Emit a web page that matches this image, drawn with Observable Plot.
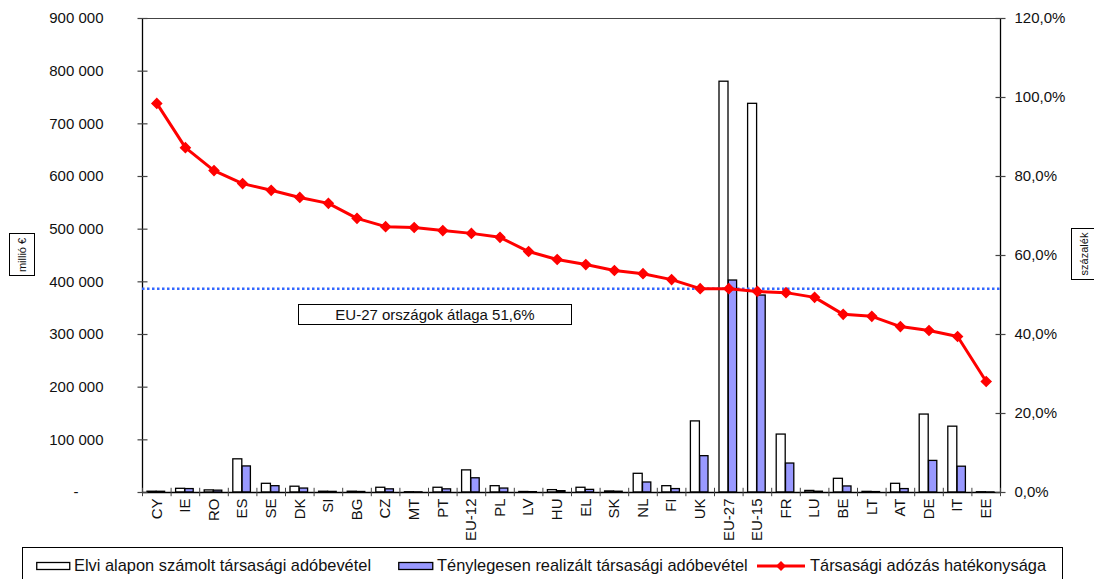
<!DOCTYPE html>
<html>
<head>
<meta charset="utf-8">
<script src="https://cdn.jsdelivr.net/npm/d3@7"></script>
<script src="https://cdn.jsdelivr.net/npm/@observablehq/plot@0.6"></script>
<style>
  html, body { margin: 0; padding: 0; background: #fff; }
  body { font-family: "Liberation Sans", Arial, sans-serif; color: #111; }
  #wrap { position: relative; width: 1094px; height: 579px; overflow: hidden; }
  .box { position: absolute; border: 1px solid #000; background: #fff; box-sizing: border-box; }
  .vlabel { position: absolute; border: 1px solid #000; background: #fff; box-sizing: border-box; }
  .vlabel span { position: absolute; left: 50%; top: 50%; transform: translate(-50%, -50%) rotate(-90deg); white-space: nowrap; font-size: 11px; }
  #avg { left: 298px; top: 304px; width: 274px; height: 21px; font-size: 15px; text-align: center; line-height: 19px; }
  #legend { position: absolute; left: 22px; top: 547px; width: 1041px; height: 44px; border: 1px solid #000; box-sizing: border-box; font-size: 16.4px; }
  .item { position: absolute; top: 8px; display: flex; align-items: center; white-space: nowrap; }
  .item svg { margin-right: 3px; }
</style>
</head>
<body>
<div id="wrap">
  <div id="chart"></div>
  <div class="box" id="avg"></div>
  <div class="vlabel" style="left:9px; top:233px; width:26px; height:43px;"><span id="ylabL"></span></div>
  <div class="vlabel" style="left:1071px; top:228px; width:26px; height:52px;"><span id="ylabR"></span></div>
  <div id="legend"></div>
</div>
<script>
// Countries / country groups, ordered by tax efficiency
const countries = ["CY","IE","RO","ES","SE","DK","SI","BG","CZ","MT","PT","EU-12","PL","LV","HU","EL","SK","NL","FI","UK","EU-27","EU-15","FR","LU","BE","LT","AT","DE","IT","EE"];

// Theoretical corporate tax revenue (million €)
const theoretical = [1500,7000,4000,63000,16500,11000,1500,1500,9000,500,9000,42000,12000,1000,4500,9000,2000,35500,12000,135000,780000,738000,110000,3000,26000,1200,16500,148000,125000,500];

// Actually collected corporate tax revenue (million €)
const realized = [1400,6500,3500,49500,12000,7500,1200,1000,6000,300,6000,27000,7500,700,2500,5000,1500,19000,6500,69000,402500,374000,55000,1500,11500,800,6500,60000,49000,150];

// Corporate tax efficiency (%)
const efficiency = [98.5,87.3,81.5,78.2,76.5,74.7,73.2,69.4,67.3,67.1,66.3,65.6,64.6,61.0,59.0,57.7,56.2,55.4,53.9,51.6,51.6,50.9,50.6,49.4,45.1,44.6,42.0,41.0,39.5,28.1];

// EU-27 average efficiency (%)
const euAverage = 51.6;

// Axis ticks
const leftTicks = [0,100000,200000,300000,400000,500000,600000,700000,800000,900000];
const rightTicks = [0,20,40,60,80,100,120];

// Labels
const seriesNames = ["Elvi alapon számolt társasági adóbevétel", "Ténylegesen realizált társasági adóbevétel", "Társasági adózás hatékonysága"];
const avgLabel = "EU-27 országok átlaga 51,6%";
const leftAxisLabel = "millió €";
const rightAxisLabel = "százalék";

// The percentage series share the money axis: 120% maps to the 900 000 top
const yMax = 900000, pctMax = 120;
const k = yMax / pctMax;

const rows = countries.map((c, i) => ({country: c, theoretical: theoretical[i], realized: realized[i], efficiency: efficiency[i]}));

const half = 858 / countries.length / 2;   // half band width in px
const blue = "#9999ff";
const red = "#ff0000";

// short horizontal stroke used as an axis tick
const hTick = {draw(ctx) { ctx.moveTo(-5, 0); ctx.lineTo(5, 0); }};

const fmtMoney = v => v === 0 ? "-\u00a0\u00a0\u00a0\u00a0\u00a0\u00a0" : d3.format(",")(v).replace(/,/g, " ");
const fmtPct = v => (v / k).toFixed(1).replace(".", ",") + "%";

const chart = Plot.plot({
  width: 1094,
  height: 541,
  marginLeft: 142,
  marginRight: 94,
  marginTop: 18,
  marginBottom: 49,
  style: {fontFamily: "'Liberation Sans', Arial, sans-serif", fontSize: "15px", background: "transparent", overflow: "visible", color: "#111"},
  x: {domain: countries, padding: 0, round: false, axis: null},
  y: {domain: [0, yMax], axis: null},
  marks: [
    // plot frame: top border, baseline, left and right axis lines
    Plot.ruleY([yMax], {stroke: "#444", strokeWidth: 1}),
    Plot.ruleX([countries[0]], {dx: -half, stroke: "#000", strokeWidth: 1.3}),
    Plot.ruleX([countries[countries.length - 1]], {dx: half, stroke: "#000", strokeWidth: 1.3}),

    // bars
    Plot.barY(rows, {x: "country", y: "theoretical", fill: "#fff", stroke: "#000", strokeWidth: 1.3, insetLeft: 5, insetRight: 14.6}),
    Plot.barY(rows, {x: "country", y: "realized", fill: blue, stroke: "#000", strokeWidth: 1.3, insetLeft: 14.3, insetRight: 6}),

    Plot.ruleY([0], {stroke: "#000", strokeWidth: 1.3}),

    // category boundary ticks on the x axis
    Plot.ruleX(countries, {x: d => d, dx: -half, y1: -8000, y2: 8000, stroke: "#444"}),
    Plot.ruleX([countries[countries.length - 1]], {dx: half, y1: -8000, y2: 8000, stroke: "#444"}),

    // y tick marks, crossing the axis lines
    Plot.dot(leftTicks, {x: () => countries[0], dx: -half, y: d => d, symbol: hTick, stroke: "#444", strokeWidth: 1.2, r: 4}),
    Plot.dot(rightTicks, {x: () => countries[countries.length - 1], dx: half, y: d => d * k, symbol: hTick, stroke: "#444", strokeWidth: 1.2, r: 4}),

    // axis labels
    Plot.axisY(leftTicks, {anchor: "left", tickSize: 0, tickPadding: 39, tickFormat: fmtMoney, fontSize: 15}),
    Plot.axisY(rightTicks.map(p => p * k), {anchor: "right", tickSize: 0, tickPadding: 14, tickFormat: fmtPct, fontSize: 15}),
    Plot.axisX({tickSize: 0, tickPadding: 6, rotate: -90, textAnchor: "end", lineAnchor: "middle", label: null, fontSize: 15}),

    // EU-27 average
    Plot.ruleY([euAverage * k], {stroke: "#3366ff", strokeWidth: 2.5, strokeDasharray: "2.5,2.5"}),

    // efficiency line with diamond markers
    Plot.line(rows, {x: "country", y: d => d.efficiency * k, stroke: red, strokeWidth: 3}),
    Plot.dot(rows, {x: "country", y: d => d.efficiency * k, symbol: "square", rotate: 45, r: 3.8, fill: red, stroke: red})
  ]
});
document.getElementById("chart").appendChild(chart);

document.getElementById("avg").textContent = avgLabel;
document.getElementById("ylabL").textContent = leftAxisLabel;
document.getElementById("ylabR").textContent = rightAxisLabel;

// legend
const legend = document.getElementById("legend");
const swatches = [
  `<svg width="35" height="10"><rect x="0.75" y="1.5" width="33" height="7" fill="#fff" stroke="#000" stroke-width="1.3"/></svg>`,
  `<svg width="36" height="10"><rect x="0.75" y="1.5" width="34" height="7" fill="${blue}" stroke="#000" stroke-width="1.3"/></svg>`,
  `<svg width="50" height="12"><line x1="0" y1="6" x2="48" y2="6" stroke="${red}" stroke-width="3"/><rect x="20.5" y="2.5" width="7" height="7" fill="${red}" transform="rotate(45 24 6)"/></svg>`
];
const lefts = [13, 375, 734];
seriesNames.forEach((name, i) => {
  const d = document.createElement("div");
  d.className = "item";
  d.style.left = lefts[i] + "px";
  d.innerHTML = swatches[i] + `<span>${name}</span>`;
  legend.appendChild(d);
});
</script>
</body>
</html>
